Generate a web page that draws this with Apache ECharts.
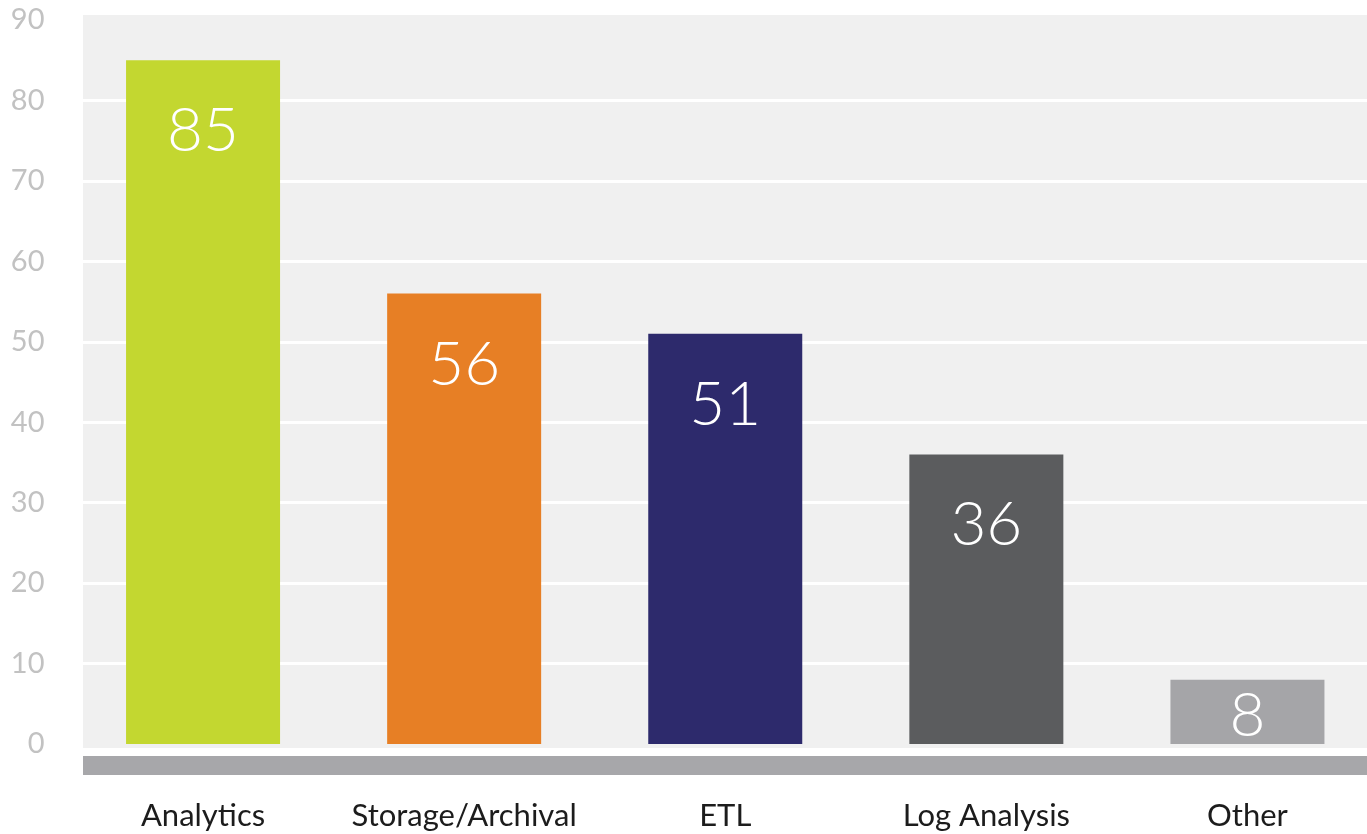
<!DOCTYPE html>
<html>
<head>
<meta charset="utf-8">
<script src="https://cdn.jsdelivr.net/npm/echarts@6/dist/echarts.min.js"></script>
<style>
  html, body { margin: 0; padding: 0; background: #ffffff; overflow: hidden; }
  #chart { width: 1378px; height: 834px; }
</style>
</head>
<body>
<div id="chart"></div>
<script>
// Workload categories and their counts
const categories = ['Analytics', 'Storage/Archival', 'ETL', 'Log Analysis', 'Other'];
const counts = [85, 56, 51, 36, 8];
const barColors = ['#c3d730', '#e77f25', '#2d2a6c', '#5b5c5e', '#a5a5a8'];
const yTicks = [0, 10, 20, 30, 40, 50, 60, 70, 80, 90];

const chart = echarts.init(document.getElementById('chart'), null, { renderer: 'canvas' });

const fontFamily = 'Lato, "Open Sans", sans-serif';

chart.setOption({
  animation: false,
  backgroundColor: '#ffffff',
  grid: { left: 72.5, right: 0, top: 20, bottom: 90, containLabel: false },
  graphic: [
    // plot panel
    { type: 'rect', z: -10, silent: true,
      shape: { x: 83, y: 15, width: 1284, height: 733 },
      style: { fill: '#f0f0f0' } },
    // baseline band under the bars
    { type: 'rect', z: -10, silent: true,
      shape: { x: 83, y: 756, width: 1284, height: 19 },
      style: { fill: '#a7a7aa' } }
  ],
  xAxis: {
    type: 'category',
    data: categories,
    axisLine: { show: false },
    axisTick: { show: false },
    axisLabel: {
      interval: 0,
      margin: 56,
      fontFamily: fontFamily,
      fontSize: 31,
      color: '#1c1c1c'
    }
  },
  yAxis: {
    type: 'value',
    min: yTicks[0],
    max: yTicks[yTicks.length - 1],
    interval: 10,
    axisLine: { show: false },
    axisTick: { show: false },
    axisLabel: {
      margin: 28,
      fontFamily: fontFamily,
      fontSize: 29,
      color: '#c2c2c2'
    },
    splitLine: {
      show: true,
      showMinLine: false,
      showMaxLine: false,
      lineStyle: { color: '#ffffff', width: 3 }
    }
  },
  series: [{
    type: 'bar',
    barWidth: 154,
    data: counts.map((v, i) => ({
      value: v,
      itemStyle: { color: barColors[i] },
      label: v < 15 ? { position: 'inside', offset: [0, 4] } : undefined
    })),
    label: {
      show: true,
      position: 'insideTop',
      distance: 40,
      fontFamily: fontFamily,
      fontWeight: 300,
      fontSize: 62,
      color: '#ffffff'
    }
  }]
});
</script>
</body>
</html>
